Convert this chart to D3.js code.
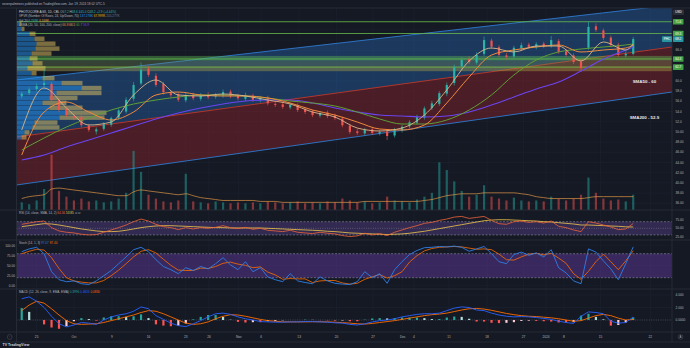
<!DOCTYPE html>
<html>
<head>
<meta charset="utf-8">
<script src="https://cdn.jsdelivr.net/npm/d3@7"></script>
<style>
  html, body { margin: 0; padding: 0; background: #151924; }
  svg { display: block; font-family: "Liberation Sans", Roboto, Arial, sans-serif; }
  text { white-space: pre; }
</style>
</head>
<body>
<svg id="chart" width="690" height="348"></svg>
<script>
// ---------- daily bars, Sep 21 2023 – Jan 19 2024 ----------
const open = [57.0,57.6,58.4,59.2,59.4,56.2,54.5,53.1,52.9,51.2, 50.1,50.6,51.4,52.8,54.0,56.5,59.5,62.4,61.0,59.4,
  57.6,57.4,56.2,57.3,56.5,57.3,56.9,57.1,57.9,57.1, 56.5,57.1,56.2,56.7,55.5,55.4,54.8,55.2,54.4,54.0,
  53.2,53.8,53.2,52.6,51.2,50.1,49.7,50.5,49.7,50.1, 49.3,50.3,51.1,51.8,52.8,54.7,55.5,57.5,59.6,62.8,
  64.3,63.6,65.3,67.9,66.6,65.0,64.8,66.4,67.1,66.6, 67.3,66.9,67.8,65.8,65.0,63.8,66.5,70.7,69.9,68.5,
  67.1,65.0,65.3];
const high = [57.9,58.7,59.5,62.4,59.8,56.7,54.9,53.6,53.3,51.6, 50.9,51.9,53.0,54.6,56.8,59.8,63.6,62.9,61.5,59.8,
  58.0,57.8,57.6,57.7,57.6,57.8,57.6,58.3,58.3,57.5, 57.7,57.5,57.0,57.1,55.9,55.8,55.7,55.6,54.8,54.3,
  54.1,54.2,53.6,53.0,51.6,50.6,50.8,50.9,50.4,50.5, 50.8,51.4,52.3,53.4,55.0,56.1,58.0,59.7,63.2,64.6,
  64.8,65.6,68.7,68.3,67.0,65.5,66.9,67.5,67.5,67.6, 67.7,68.8,68.2,66.3,65.4,64.2,71.6,71.3,70.3,68.9,
  67.5,65.8,68.6];
const low = [56.6,57.2,58.0,58.8,55.9,53.9,52.9,52.3,50.9,50.0, 49.5,50.2,51.0,52.4,53.6,56.0,59.1,60.8,58.8,57.3,
  56.8,55.9,55.8,56.2,56.1,56.4,56.5,56.7,56.6,56.2, 56.1,55.9,55.8,55.2,54.9,54.5,54.4,53.9,53.5,52.9,
  52.8,52.7,52.3,50.9,49.6,49.4,49.3,49.4,49.3,48.4, 48.9,49.9,50.7,51.4,52.4,54.3,55.1,57.0,59.1,62.3,
  63.3,63.2,64.9,66.3,64.7,64.2,64.4,66.0,66.3,66.2, 66.4,66.5,65.3,64.7,63.3,61.8,66.1,69.6,68.0,66.6,
  64.7,64.6,65.0];
const close = [57.5,58.3,59.0,59.6,56.3,54.3,53.3,52.8,51.3,50.4, 50.5,51.5,52.7,54.2,56.3,59.2,62.2,61.2,59.2,57.8,
  57.2,56.3,57.2,56.6,57.2,56.8,57.2,57.8,57.0,56.6, 57.2,56.3,56.6,55.6,55.3,54.9,55.3,54.3,53.9,53.3,
  53.7,53.1,52.7,51.3,50.0,49.8,50.4,49.8,50.0,49.2, 50.4,51.0,51.9,52.9,54.6,55.6,57.6,59.2,62.7,64.1,
  63.7,65.1,68.0,66.7,65.1,64.7,66.5,67.0,66.7,67.2, 66.8,68.0,65.7,65.1,63.7,62.5,70.6,70.0,68.4,67.0,
  65.1,65.3,68.2];
// volume, thousands of shares
const volume = [8,6,10,22,58,20,14,10,12,9, 10,8,9,12,18,62,40,16,12,9,
  8,10,38,9,8,7,9,8,7,8, 7,8,7,9,8,7,8,9,7,8,
  7,9,8,12,10,8,9,7,8,14, 10,9,8,11,14,18,50,42,30,20,
  14,16,26,14,12,10,13,10,9,10, 9,14,12,10,12,16,34,18,12,10,
  11,9,16];
const volumeMA = [12,14,15,16,22,23,22,21,20,19, 18,17,16,15,15,19,21,20,19,18,
  17,16,17,15,13,12,11,10,10,10, 10,10,9,9,9,8,8,8,8,8,
  8,8,8,8,8,8,9,9,9,9, 9,9,9,9,10,11,13,15,16,17,
  17,17,18,18,18,18,18,17,16,14, 13,12,12,12,12,12,13,14,14,14,
  14,14,14];

// moving averages, read at these bar indices
const maIndex = [0,3,6,9,12,15,18,21,24,27,30,33,36,39,42,45,48,51,54,57,60,63,66,69,72,75,78,81,82];
const maFast = [50.37,58.61,54.69,51.35,51.94,57.24,60.18,57.24,57.04,57.43,57.04,56.25,55.47,53.90,52.92,50.76,50.18,50.76,53.31,58.22,63.90,66.45,65.67,66.84,66.84,63.90,67.63,66.06,67.24];
const ma20 = [45.47,53.90,55.86,53.90,52.33,53.90,57.24,57.82,57.24,57.04,57.04,56.65,55.67,54.29,53.31,51.94,50.57,50.37,51.35,55.67,60.76,65.08,66.06,66.65,67.04,65.67,66.06,66.45,67.04];
const ma50 = [46.45,48.80,50.96,52.73,54.29,55.47,56.25,56.84,57.24,57.24,57.04,56.65,56.06,55.67,55.08,53.90,52.53,51.55,51.55,52.33,54.29,57.24,61.16,64.10,65.67,66.25,66.65,67.04,67.24];
const ma200 = [44.49,45.47,47.04,48.40,49.78,51.16,52.53,53.71,54.69,55.47,56.06,56.25,56.25,55.67,54.69,53.90,53.31,53.12,52.92,53.12,53.90,55.27,56.84,58.41,59.78,61.94,64.29,66.06,66.65];

// visible-range volume profile, 24 rows from the top price down (thousands)
const vpUp   = [3,5,13,18,20,19,15,13,16,11,15,26,45,65,40,33,26,33,50,43,18,16,8,5];
const vpDown = [2,3,6,10,19,24,20,8,10,18,5,12,21,20,45,28,24,33,40,45,23,27,5,5];

// RSI (14) and its SMA (14)
const rsi = [62,66,70,72,52,42,38,36,32,30, 31,38,45,52,60,70,78,72,62,55,
  52,46,52,48,52,50,53,58,52,49, 53,47,50,44,42,40,44,38,36,34,
  38,35,33,28,25,27,35,30,34,28, 38,45,52,58,65,68,74,78,84,86,
  80,83,86,74,64,62,70,72,68,70, 66,72,56,52,45,40,70,66,60,54,
  46,48,64.56];
const rsiMA = [55,58,61,64,63,60,56,52,48,45, 42,40,40,41,44,48,52,55,57,58,
  58,57,56,55,54,53,52,52,51,51, 51,51,51,50,49,48,47,46,45,44,
  43,41,40,38,36,35,34,33,32,31, 32,33,35,38,41,45,49,53,57,61,
  65,69,73,75,76,76,75,74,73,72, 70,69,67,65,63,60,60,59,58,57,
  56,54.5,53.85];

// Stochastic (14, 1, 3)
const stochK = [85,92,96,80,35,15,10,12,5,3, 12,25,38,55,72,90,96,85,65,48,
  40,30,45,38,48,42,55,70,52,40, 60,35,45,22,15,10,30,12,8,5,
  22,12,6,4,3,10,35,20,30,6, 40,60,78,88,95,96,98,97,99,96,
  86,92,98,80,60,55,78,84,76,82, 72,90,45,32,12,5,92,84,62,42,
  15,55,97.07];
const stochD = [80,86,91,89,70,43,20,12,9,7, 7,13,25,39,55,72,86,90,82,66,
  51,39,38,38,44,43,48,56,59,54, 51,45,47,34,27,16,18,17,17,8,
  12,13,13,7,4,6,16,22,28,19, 25,35,59,75,87,93,96,97,98,97,
  94,91,92,90,79,65,64,72,79,81, 77,81,69,56,30,16,36,60,79,60,
  40,62,87.40];

// MACD (12, 26, 9)
const macd = [3.4,3.7,3.0,2.0,0.6,-0.6,-1.1,-0.8,-0.4,-0.5, -0.7,0.0,0.5,0.8,1.0,1.4,2.1,1.8,0.7,0.1,
  -0.5,-0.9,-1.05,-0.6,-0.1,0.5,1.0,1.1,0.9,0.5, 0.2,0.0,-0.25,-0.3,-0.35,-0.35,-0.3,-0.3,-0.25,-0.25,
  -0.3,-0.35,-0.45,-0.5,-0.7,-0.8,-0.6,-0.3,-0.1,0.0, 0.2,0.5,0.7,0.9,1.0,1.0,1.1,1.5,1.9,2.1,
  2.0,1.6,1.5,1.1,0.8,0.6,0.5,0.55,0.5,0.4, 0.25,0.1,-0.2,-0.4,-0.55,0.6,1.3,1.2,1.0,-0.2,
  -0.5,-0.4,0.4826];
const macdSignal = [1.5,2.4,3.0,2.7,1.8,0.8,-0.1,-0.6,-0.7,-0.65, -0.6,-0.4,-0.1,0.2,0.5,0.8,1.2,1.5,1.4,1.0,
  0.5,0.0,-0.5,-0.7,-0.6,-0.3,0.2,0.6,0.85,0.8, 0.6,0.35,0.1,-0.1,-0.2,-0.3,-0.3,-0.3,-0.3,-0.28,
  -0.28,-0.3,-0.35,-0.42,-0.5,-0.6,-0.65,-0.55,-0.4,-0.25, -0.1,0.1,0.3,0.5,0.7,0.85,0.95,1.1,1.35,1.6,
  1.8,1.85,1.75,1.55,1.3,1.05,0.85,0.7,0.6,0.55, 0.45,0.35,0.2,0.0,-0.2,-0.1,0.3,0.7,0.9,0.7,
  0.3,0.0,0.0830];
const macdHist = [1.9,1.3,0.0,-0.7,-1.2,-1.4,-1.0,-0.2,0.3,0.15, -0.1,0.4,0.6,0.6,0.5,0.6,0.9,0.3,-0.7,-0.9,
  -1.0,-0.9,-0.55,0.1,0.5,0.8,0.8,0.5,0.05,-0.3, -0.4,-0.35,-0.35,-0.2,-0.15,-0.05,0.0,0.0,0.05,0.03,
  -0.02,-0.05,-0.1,-0.08,-0.2,-0.2,0.05,0.25,0.3,0.25, 0.3,0.4,0.4,0.4,0.3,0.15,0.15,0.4,0.55,0.5,
  0.2,-0.25,-0.25,-0.45,-0.5,-0.45,-0.35,-0.15,-0.1,-0.15, -0.2,-0.25,-0.4,-0.4,-0.35,0.7,1.0,0.5,0.1,-0.9,
  -0.8,-0.4,0.3996];

// drawn levels and channel anchors ([bar index, price])
const levelPrices = [71.6, 69.3, 64.3, 62.7];
const zoneTops    = [64.9, 64.0, 62.9];
const zoneBottoms = [64.0, 62.9, 61.9];
const channelTop = [[-0.7, 60.18], [87.2, 74.88]];
const channelMid = [[-0.7, 49.0], [87.2, 66.65]];
const channelBot = [[-0.7, 39.59], [87.2, 57.82]];
const notePrices = [60, 52.9];
const noteTexts  = ["SMA50 - 60", "SMA200 - 52.9"];

// axes
const priceTicks = [72,70,68,66,64,62,60,58,56,54,52,50,48,46,44,42,40,38,36];
const tickBars   = [2, 7, 12.1, 17, 22, 25.1, 29.1, 32.1, 37.2, 42.2, 47.1, 51.1, 52.6, 57.3, 62.4, 67.3, 70.3, 72.7, 77.6, 84.3];
const tickLabels = ["25","Oct","9","16","23","26","Nov","6","13","20","27","Dec","4","11","18","27","2024","8","15","22"];
const rsiTicks = [75, 50, 25];
const stochTicks = [100, 75, 50, 25, 0];
const macdTicks = [4, 2, 0];

// ---------- layout ----------
const svg = d3.select("#chart");
const L = 16.5, R = 672;
const P = { main: [8, 210], rsi: [210, 240], st: [240, 289], macd: [289, 332] };
const BG = "#151924", GRID = "#1d2130", SEP = "#2a2e39", TXT = "#b2b5be";
const UP = "#2bb3a8", DN = "#ef5350";

const x = d3.scaleLinear().domain([-0.7, 87.2]).range([L, R]);
const yP = d3.scaleLinear().domain([36, 72]).range([203.3, 19.7]);
const yVol = d3.scaleLinear().domain([0, 65]).range([210, 148]);
const yRsi = d3.scaleLinear().domain([0, 100]).range([244.8, 211.8]);
const ySt = d3.scaleLinear().domain([0, 100]).range([285.7, 245.7]);
const yM = d3.scaleLinear().domain([0, 4]).range([320, 295]);
const vpW = d3.scaleLinear().domain([0, 90]).range([0, 90]);

svg.append("rect").attr("width", 690).attr("height", 348).attr("fill", BG);

const defs = svg.append("defs");
function clip(id, y0, y1) {
  defs.append("clipPath").attr("id", id).append("rect")
    .attr("x", L).attr("y", y0).attr("width", R - L).attr("height", y1 - y0);
}
clip("cMain", ...P.main); clip("cRsi", ...P.rsi); clip("cSt", ...P.st); clip("cM", ...P.macd);

// grid
const grid = svg.append("g").attr("stroke", GRID).attr("stroke-width", 0.6);
tickBars.forEach(b => grid.append("line").attr("x1", x(b)).attr("x2", x(b)).attr("y1", 8).attr("y2", 332));
priceTicks.forEach(p => grid.append("line").attr("x1", L).attr("x2", R).attr("y1", yP(p)).attr("y2", yP(p)));
macdTicks.forEach(v => grid.append("line").attr("x1", L).attr("x2", R).attr("y1", yM(v)).attr("y2", yM(v)));
stochTicks.forEach(v => grid.append("line").attr("x1", L).attr("x2", R).attr("y1", ySt(v)).attr("y2", ySt(v)));

// ---------- main pane ----------
const g = svg.append("g").attr("clip-path", "url(#cMain)");
const pt = d => [x(d[0]), yP(d[1])];
const band = (a, b) => [pt(a[0]), pt(a[1]), pt(b[1]), pt(b[0])].join(" ");
g.append("polygon").attr("points", band(channelTop, channelMid)).attr("fill", "rgba(41,121,210,0.33)");
g.append("polygon").attr("points", band(channelMid, channelBot)).attr("fill", "rgba(200,40,45,0.30)");
[[channelTop, "#2f7bd0"], [channelMid, "#c0392b"], [channelBot, "#2f7bd0"]].forEach(([c, col]) =>
  g.append("line").attr("x1", pt(c[0])[0]).attr("y1", pt(c[0])[1]).attr("x2", pt(c[1])[0]).attr("y2", pt(c[1])[1])
    .attr("stroke", col).attr("stroke-width", 0.9));

// support / resistance zone
const zoneFill = ["rgba(90,180,80,0.42)", "rgba(120,150,90,0.33)", "rgba(170,160,70,0.42)"];
zoneTops.forEach((t, i) => g.append("rect").attr("x", L).attr("width", R - L)
  .attr("y", yP(t)).attr("height", yP(zoneBottoms[i]) - yP(t)).attr("fill", zoneFill[i]));
levelPrices.forEach(p => g.append("line").attr("x1", L).attr("x2", R).attr("y1", yP(p)).attr("y2", yP(p))
  .attr("stroke", "#6abf4b").attr("stroke-width", 0.8));

// volume
const bw = 2.2;
g.selectAll(".vol").data(volume).join("rect")
  .attr("x", (d, i) => x(i) - bw / 2).attr("width", bw)
  .attr("y", d => yVol(d)).attr("height", d => yVol(0) - yVol(d))
  .attr("fill", (d, i) => close[i] >= open[i] ? "rgba(38,166,154,0.5)" : "rgba(239,83,80,0.5)");
g.append("path").datum(volumeMA)
  .attr("d", d3.line().x((d, i) => x(i)).y(d => yVol(d)).curve(d3.curveMonotoneX))
  .attr("fill", "none").attr("stroke", "#e69a45").attr("stroke-width", 0.8).attr("opacity", 0.85);

// volume profile
const hi = d3.max(high), lo = d3.min(low), rowH = (hi - lo) / vpUp.length;
vpUp.forEach((u, i) => {
  const yt = yP(hi - i * rowH), h = yP(hi - (i + 1) * rowH) - yt - 0.5;
  g.append("rect").attr("x", L).attr("y", yt).attr("width", vpW(u)).attr("height", h).attr("fill", "rgba(33,150,243,0.5)");
  g.append("rect").attr("x", L + vpW(u)).attr("y", yt).attr("width", vpW(vpDown[i])).attr("height", h).attr("fill", "rgba(250,215,100,0.45)");
});

// candles
const cg = g.append("g");
close.forEach((c, i) => {
  const o = open[i], col = c >= o ? UP : DN;
  cg.append("line").attr("x1", x(i)).attr("x2", x(i)).attr("y1", yP(high[i])).attr("y2", yP(low[i]))
    .attr("stroke", col).attr("stroke-width", 0.6);
  cg.append("rect").attr("x", x(i) - bw / 2).attr("width", bw)
    .attr("y", yP(Math.max(o, c))).attr("height", Math.max(0.7, Math.abs(yP(o) - yP(c)))).attr("fill", col);
});

// moving averages
const maLine = d3.line().x((d, i) => x(maIndex[i])).y(d => yP(d)).curve(d3.curveMonotoneX);
[[ma200, "#6a45f0", 1.1], [ma50, "#5f9e36", 1], [ma20, "#f08a3c", 1], [maFast, "#d8b98a", 0.9]].forEach(([s, col, w]) =>
  g.append("path").attr("d", maLine(s)).attr("fill", "none").attr("stroke", col).attr("stroke-width", w));

// notes
notePrices.forEach((p, i) => g.append("text").attr("x", x(83.5)).attr("y", yP(p) + 1.6)
  .attr("text-anchor", "middle").attr("font-size", 4.4).attr("font-weight", "bold").attr("fill", "#e8e8ea").text(noteTexts[i]));

// ---------- RSI pane ----------
const gr = svg.append("g").attr("clip-path", "url(#cRsi)");
gr.append("rect").attr("x", L).attr("width", R - L).attr("y", yRsi(70)).attr("height", yRsi(30) - yRsi(70)).attr("fill", "rgba(126,87,194,0.28)");
[[70, "2,1.5"], [30, "2,1.5"], [50, "0.8,1.5"]].forEach(([v, da]) => gr.append("line").attr("x1", L).attr("x2", R)
  .attr("y1", yRsi(v)).attr("y2", yRsi(v)).attr("stroke", "#8a8d99").attr("stroke-width", 0.6).attr("stroke-dasharray", da));
const lineOf = ys => d3.line().x((d, i) => x(i)).y(d => ys(d));
gr.append("path").attr("d", lineOf(yRsi)(rsiMA)).attr("fill", "none").attr("stroke", "#f2c94c").attr("stroke-width", 0.8);
gr.append("path").attr("d", lineOf(yRsi)(rsi)).attr("fill", "none").attr("stroke", "#f0643a").attr("stroke-width", 0.8);

// ---------- Stochastic pane ----------
const gs = svg.append("g").attr("clip-path", "url(#cSt)");
gs.append("rect").attr("x", L).attr("width", R - L).attr("y", ySt(80)).attr("height", ySt(20) - ySt(80)).attr("fill", "rgba(126,70,200,0.35)");
[80, 20].forEach(v => gs.append("line").attr("x1", L).attr("x2", R).attr("y1", ySt(v)).attr("y2", ySt(v))
  .attr("stroke", "#8a8d99").attr("stroke-width", 0.6).attr("stroke-dasharray", "2,1.5"));
gs.append("path").attr("d", lineOf(ySt)(stochD)).attr("fill", "none").attr("stroke", "#ff6d00").attr("stroke-width", 0.8);
gs.append("path").attr("d", lineOf(ySt)(stochK)).attr("fill", "none").attr("stroke", "#2f7fe8").attr("stroke-width", 0.9);

// ---------- MACD pane ----------
const gm = svg.append("g").attr("clip-path", "url(#cM)");
gm.append("line").attr("x1", L).attr("x2", R).attr("y1", yM(0)).attr("y2", yM(0))
  .attr("stroke", "#787b86").attr("stroke-width", 0.5).attr("stroke-dasharray", "0.8,1.5");
gm.selectAll(".h").data(macdHist).join("rect")
  .attr("x", (d, i) => x(i) - bw / 2).attr("width", bw)
  .attr("y", d => Math.min(yM(d), yM(0))).attr("height", d => Math.abs(yM(d) - yM(0)))
  .attr("fill", (d, i) => {
    const prev = i ? macdHist[i - 1] : d;
    return d >= 0 ? (d >= prev ? "#26a69a" : "#b2dfdb") : (d <= prev ? "#ff5252" : "#ffcdd2");
  });
gm.append("path").attr("d", lineOf(yM)(macdSignal)).attr("fill", "none").attr("stroke", "#ff6d00").attr("stroke-width", 0.9);
gm.append("path").attr("d", lineOf(yM)(macd)).attr("fill", "none").attr("stroke", "#2962ff").attr("stroke-width", 0.9);

// ---------- separators and frame ----------
const sep = svg.append("g").attr("stroke", SEP).attr("stroke-width", 0.8);
[8, 210, 240, 289, 332, 342].forEach(y => sep.append("line").attr("x1", 0).attr("x2", 690).attr("y1", y).attr("y2", y));
[L, R].forEach(xx => sep.append("line").attr("x1", xx).attr("x2", xx).attr("y1", 8).attr("y2", 342));

// ---------- axis labels ----------
const fs = 3.2;
const last = close[close.length - 1];
const tagPrices = levelPrices.concat([last]);
const axis = svg.append("g").attr("font-size", fs).attr("fill", TXT);
// price ticks that sit under a price-scale tag stay hidden
priceTicks.filter(p => tagPrices.every(t => Math.abs(yP(p) - yP(t)) > 5))
  .forEach(p => axis.append("text").attr("x", 675.5).attr("y", yP(p) + 1.1).text(p >= 52 ? p.toFixed(1) : p.toFixed(2)));
rsiTicks.forEach(v => axis.append("text").attr("x", 675.5).attr("y", yRsi(v) + 1.1).text(v.toFixed(2)));
macdTicks.forEach(v => axis.append("text").attr("x", 675.5).attr("y", yM(v) + 1.1).text(v === 0 ? "0.0000" : v.toFixed(3)));
stochTicks.forEach(v => axis.append("text").attr("x", 15).attr("y", ySt(v) + 1.1).attr("text-anchor", "end").text(v.toFixed(2)));
tickBars.forEach((b, i) => axis.append("text").attr("x", x(b)).attr("y", 338.3).attr("text-anchor", "middle").text(tickLabels[i]));

// price-scale labels
function tag(xx, w, y, txt, col) {
  svg.append("rect").attr("x", xx).attr("y", y - 2.8).attr("width", w).attr("height", 5.6).attr("rx", 0.6).attr("fill", col);
  svg.append("text").attr("x", xx + w / 2).attr("y", y + 1.1).attr("text-anchor", "middle")
    .attr("font-size", fs).attr("fill", "#ffffff").text(txt);
}
levelPrices.forEach(p => tag(673, 10.5, yP(p), p.toFixed(1), "#43a047"));
tag(662, 10, yP(last), "PHC", "#2a95a0");
tag(673, 10.5, yP(last), last.toFixed(1), "#2a95a0");
tag(673, 11, 12.3, "USD", "#2a2e39");

// time-axis buttons and footer
[[9.7, "·"], [680.5, "A"]].forEach(([xx, s]) => {
  svg.append("circle").attr("cx", xx).attr("cy", 337).attr("r", 2.4).attr("fill", "none").attr("stroke", "#50535e").attr("stroke-width", 0.5);
  svg.append("text").attr("x", xx).attr("y", 338.1).attr("text-anchor", "middle").attr("font-size", 2.8).attr("fill", TXT).text(s);
});
svg.append("text").attr("x", 2.5).attr("y", 346.3).attr("font-size", 3.6).attr("font-weight", "bold").attr("fill", "#d1d4dc").text("TV TradingView");

// ---------- legends ----------
function legend(x0, y0, parts) {
  const t = svg.append("text").attr("x", x0).attr("y", y0).attr("font-size", 3.1);
  parts.forEach(([s, c]) => t.append("tspan").attr("fill", c).text(s));
}
legend(2, 4.6, [["sevenpalmtrees published on TradingView.com, Jan 19, 2024 18:02 UTC-5", TXT]]);
legend(19, 13.2, [["PHOTOCORE AGX, 1D, CBL ", "#d1d4dc"], ["O", TXT], ["67.2 ", UP], ["H", TXT], ["68.6 ", UP],
  ["L", TXT], ["65.0 ", UP], ["C", TXT], ["68.2 ", UP], ["+2.9 (+4.44%)", UP]]);
legend(19, 17.2, [["VPVR (Number Of Rows, 24, Up/Down, 70) ", TXT], ["137.278K ", "#2196f3"], ["67.999K ", "#f0b400"], ["205.277K", "#787b86"]]);
legend(19, 21.6, [["Vol 20 ", TXT], ["6.769K ", UP], ["6.348K", "#e69a45"]]);
legend(19, 26, [["4SMA (20, 50, 100, 200, close) ", TXT], ["66.8 ", "#f08a3c"], ["66.5 ", "#d8b98a"], ["60.7 ", "#5f9e36"], ["56.9", "#6a45f0"]]);
legend(19, 214.2, [["RSI (14, close, SMA, 14, 2) ", TXT], ["64.56 ", "#f0643a"], ["53.85 ", "#f2c94c"], ["∅ ∅", TXT]]);
legend(19, 244, [["Stoch (14, 1, 3) ", TXT], ["97.07 ", "#2f7fe8"], ["87.40", "#ff6d00"]]);
legend(19, 293.4, [["MACD (12, 26, close, 9, EMA, EMA) ", TXT], ["0.3996 ", "#26a69a"], ["0.4826 ", "#2962ff"], ["0.0830", "#ff6d00"]]);
</script>
</body>
</html>
